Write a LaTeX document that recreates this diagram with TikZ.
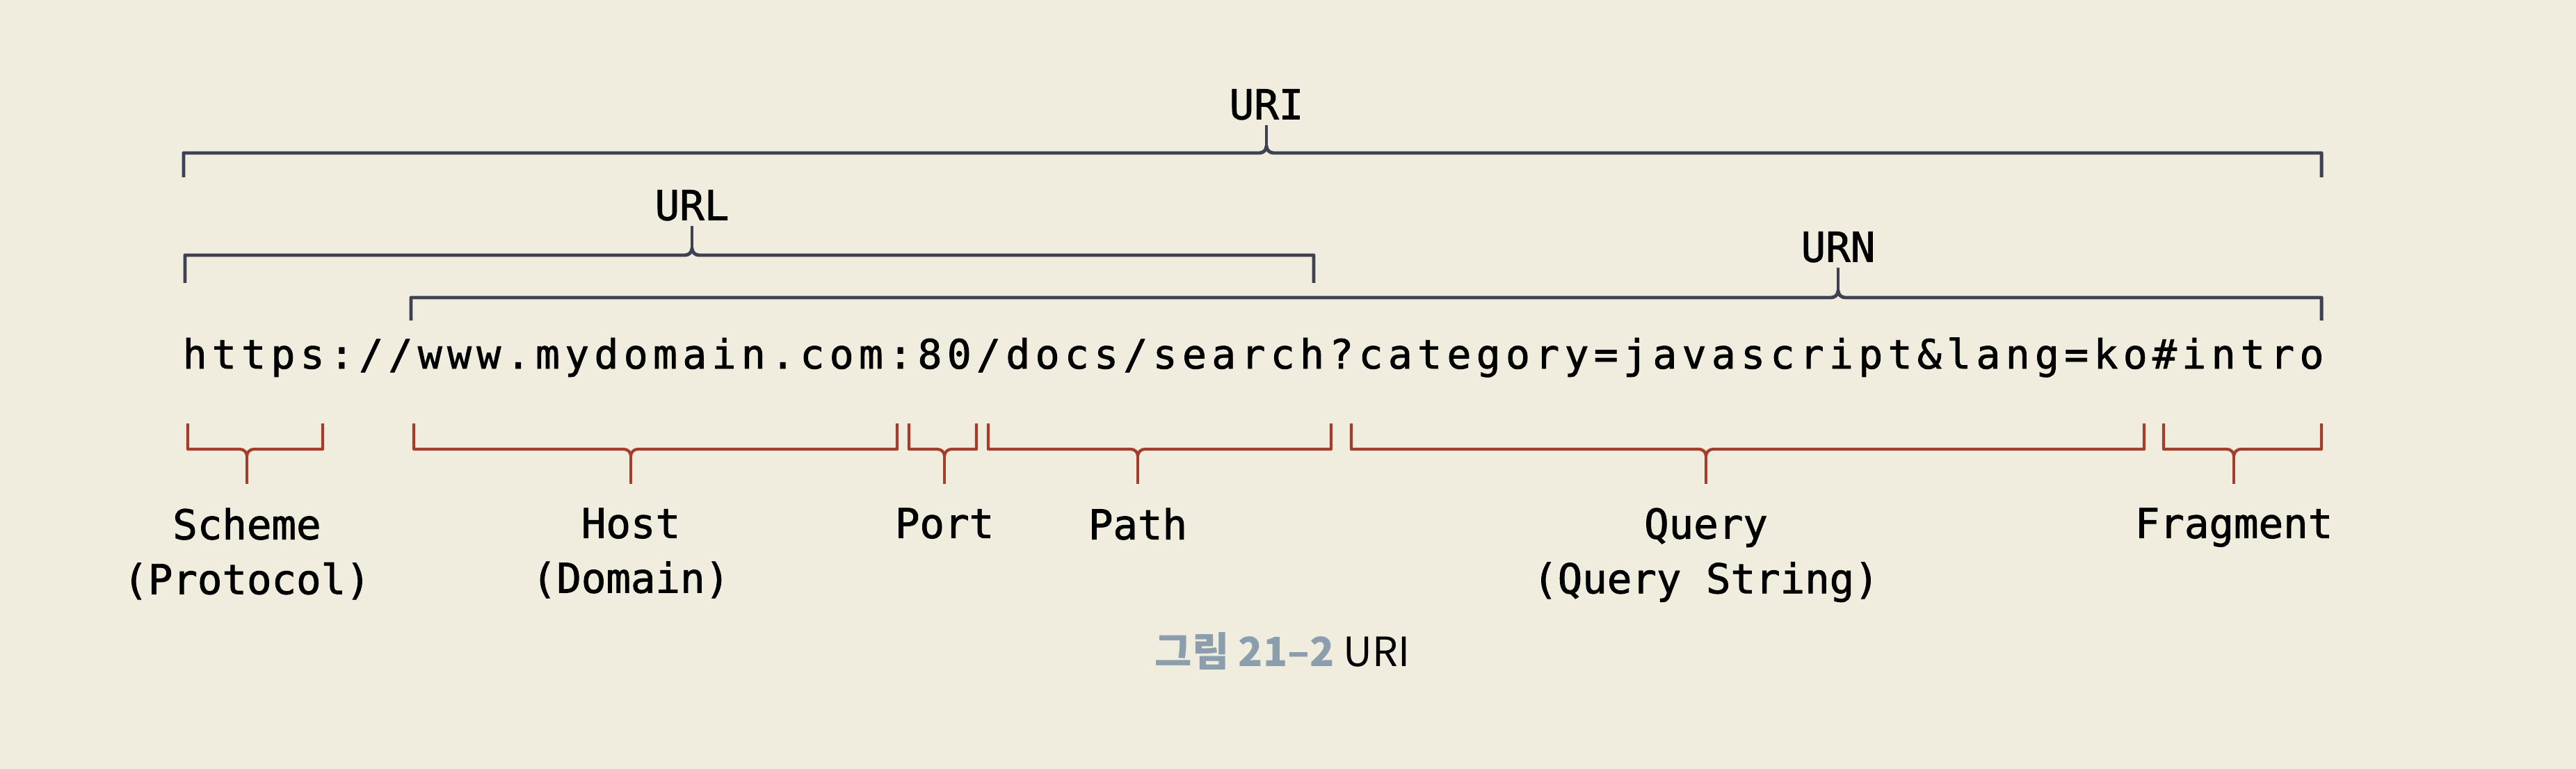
\documentclass[tikz,border=0pt]{standalone}
\usepackage{fontspec}
\setmonofont{DejaVu Sans Mono}
\newfontfamily\addrfont[LetterSpace=12.7,FakeBold=1.5]{DejaVu Sans Mono}
\newfontfamily\lblfont[FakeBold=1.5]{DejaVu Sans Mono}
\newfontfamily\cjk{Noto Sans CJK KR}
\usepackage{tikz}
\usetikzlibrary{positioning}
\usepackage{xcolor}
\definecolor{paper}{RGB}{240,237,223}
\definecolor{topline}{RGB}{62,64,84}
\definecolor{botline}{RGB}{163,62,42}
\definecolor{capblue}{RGB}{138,158,174}

\begin{document}
\begin{tikzpicture}[
    topbr/.style = {draw=topline, line width=1.4pt, line join=round},
    botbr/.style = {draw=botline, line width=1.2pt, line join=round},
    lbl/.style = {font=\lblfont\fontsize{16.8}{22.4}\selectfont, align=center, inner sep=2pt},
    ]
        \useasboundingbox (0,0) rectangle (37.04,-11.06);
        \fill[paper] (0,0) rectangle (37.04,-11.06);
        %the address
        \node[anchor=base west, inner sep=0, font=\addrfont\fontsize{16.5}{22}\selectfont] (addr) at (2.62,-5.30)
            {https://www.mydomain.com:80/docs/search?category=javascript\&lang=ko\#intro};
        %upper labels
        \node[lbl, anchor=south] (uri) at (18.21,-1.80) {URI};
        \node[lbl, anchor=south] (url) at (9.95,-3.25) {URL};
        \node[lbl, anchor=south] (urn) at (26.43,-3.85) {URN};
        %upper braces
        \draw[topbr] (2.64,-2.55) -- (2.64,-2.20) -- (18.11,-2.20) to[out=0,in=-90] (18.21,-2.10)
            to[out=-90,in=180] (18.31,-2.20) -- (33.38,-2.20) -- (33.38,-2.55);
        \draw[topbr] (18.21,-2.10) -- (uri);
        \draw[topbr] (2.66,-4.07) -- (2.66,-3.67) -- (9.85,-3.67) to[out=0,in=-90] (9.95,-3.57)
            to[out=-90,in=180] (10.05,-3.67) -- (18.89,-3.67) -- (18.89,-4.07);
        \draw[topbr] (9.95,-3.57) -- (url);
        \draw[topbr] (5.91,-4.61) -- (5.91,-4.28) -- (26.33,-4.28) to[out=0,in=-90] (26.43,-4.18)
            to[out=-90,in=180] (26.53,-4.28) -- (33.38,-4.28) -- (33.38,-4.61);
        \draw[topbr] (26.43,-4.18) -- (urn);
        %lower labels
        \node[lbl, anchor=north] (scheme) at (3.55,-7.23) {Scheme\\(Protocol)};
        \node[lbl, anchor=north] (host) at (9.07,-7.23) {Host\\(Domain)};
        \node[lbl, anchor=north] (port) at (13.58,-7.23) {Port};
        \node[lbl, anchor=north] (path) at (16.36,-7.23) {Path};
        \node[lbl, anchor=north] (query) at (24.53,-7.23) {Query\\(Query String)};
        \node[lbl, anchor=north] (frag) at (32.12,-7.23) {Fragment};
        %lower braces
        \draw[botbr] (2.70,-6.09) -- (2.70,-6.46) -- (3.45,-6.46) to[out=0,in=90] (3.55,-6.56)
            to[out=90,in=180] (3.65,-6.46) -- (4.64,-6.46) -- (4.64,-6.09);
        \draw[botbr, shorten >=0.27cm] (3.55,-6.56) -- (scheme);
        \draw[botbr] (5.95,-6.09) -- (5.95,-6.46) -- (8.97,-6.46) to[out=0,in=90] (9.07,-6.56)
            to[out=90,in=180] (9.17,-6.46) -- (12.90,-6.46) -- (12.90,-6.09);
        \draw[botbr, shorten >=0.27cm] (9.07,-6.56) -- (host);
        \draw[botbr] (13.07,-6.09) -- (13.07,-6.46) -- (13.48,-6.46) to[out=0,in=90] (13.58,-6.56)
            to[out=90,in=180] (13.68,-6.46) -- (14.04,-6.46) -- (14.04,-6.09);
        \draw[botbr, shorten >=0.27cm] (13.58,-6.56) -- (port);
        \draw[botbr] (14.21,-6.09) -- (14.21,-6.46) -- (16.26,-6.46) to[out=0,in=90] (16.36,-6.56)
            to[out=90,in=180] (16.46,-6.46) -- (19.14,-6.46) -- (19.14,-6.09);
        \draw[botbr, shorten >=0.27cm] (16.36,-6.56) -- (path);
        \draw[botbr] (19.43,-6.09) -- (19.43,-6.46) -- (24.43,-6.46) to[out=0,in=90] (24.53,-6.56)
            to[out=90,in=180] (24.63,-6.46) -- (30.83,-6.46) -- (30.83,-6.09);
        \draw[botbr, shorten >=0.27cm] (24.53,-6.56) -- (query);
        \draw[botbr] (31.11,-6.09) -- (31.11,-6.46) -- (32.02,-6.46) to[out=0,in=90] (32.12,-6.56)
            to[out=90,in=180] (32.22,-6.46) -- (33.38,-6.46) -- (33.38,-6.09);
        \draw[botbr, shorten >=0.27cm] (32.12,-6.56) -- (frag);
        %caption
        \node[anchor=base, font=\cjk\fontsize{16.5}{19}\selectfont] (cap) at (18.44,-9.58)
            {\textcolor{capblue}{\bfseries 그림 21–2} URI};
    \end{tikzpicture}
\end{document}
